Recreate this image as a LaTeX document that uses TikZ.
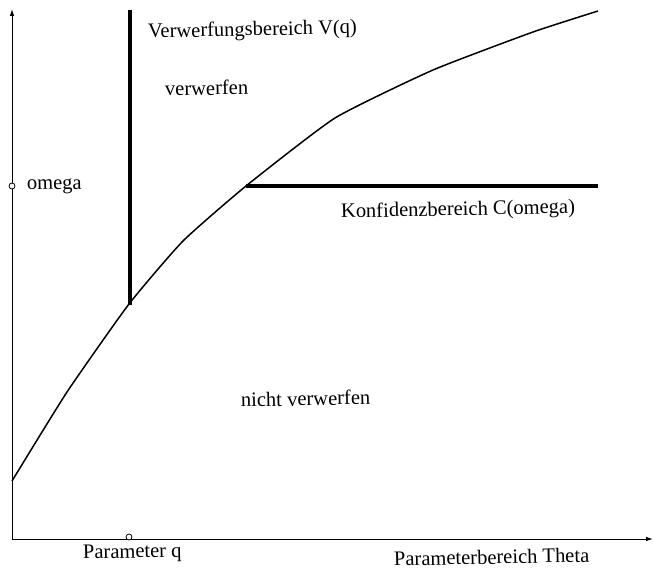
\documentclass[tikz,border=0pt]{standalone}
\usepackage{fontspec}
\setmainfont{Liberation Serif}
\usetikzlibrary{arrows.meta}
\tikzset{
  axis/.style={line width=0.9pt, -{Latex[length=7pt,width=4.5pt]}},
  curve/.style={line width=1.5pt},
  bar/.style={line width=4pt},
  lbl/.style={font=\fontsize{20.5}{22}\selectfont, inner sep=0pt, anchor=base west, rotate=1.2},
  tick/.style={circle, draw, line width=0.8pt, fill=white, inner sep=0pt, minimum size=6pt}
}
\begin{document}
\begin{tikzpicture}[x=1pt,y=-1pt]
\useasboundingbox (0,0) rectangle (653,569);
\coordinate (O) at (12,539);
\coordinate (ytop) at (12,9);
\coordinate (xend) at (653,539);
\draw[axis] (O) -- (ytop);
\draw[axis] (O) -- (xend);
\draw[curve] plot[smooth, tension=0.3] coordinates {(12,481) (67,392) (129,304) (183,241) (246,186) (335,118) (433,70) (533,32) (598,11)};
\coordinate (v1) at (130,10);
\coordinate (v2) at (130,305);
\draw[bar] (v1) -- (v2);
\coordinate (h1) at (246,186);
\coordinate (h2) at (598,186);
\draw[bar] (h1) -- (h2);
\node[tick] (om) at (12,186) {};
\node[tick] (pq) at (129,537) {};
\node[lbl] (tV) at (148,38) {Verwerfungsbereich V(q)};
\node[lbl] (tv) at (165,96) {verwerfen};
\node[lbl] (tom) at (27,190) {omega};
\node[lbl] (tK) at (341,218) {Konfidenzbereich C(omega)};
\node[lbl] (tn) at (241,407) {nicht verwerfen};
\node[lbl] (tp) at (83,559) {Parameter q};
\node[lbl] (tT) at (394,566) {Parameterbereich Theta};
\end{tikzpicture}
\end{document}
